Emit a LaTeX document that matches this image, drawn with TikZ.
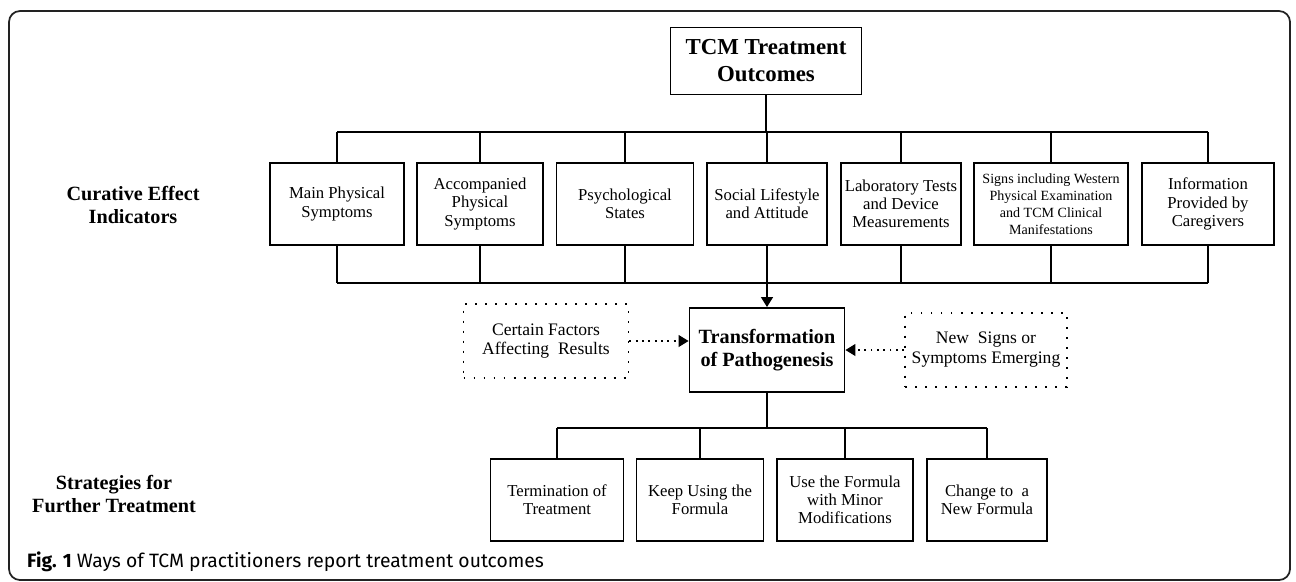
\documentclass[tikz,border=0pt]{standalone}
\usepackage{fontspec}
\setmainfont{Liberation Serif}
\newfontfamily\capfont{Fira Sans}
\usetikzlibrary{arrows.meta, calc}
\definecolor{framecol}{HTML}{222222}
\newcommand\boxfont{\fontsize{9.5}{10.4}\selectfont}
\newcommand\signfont{\fontsize{8}{9.6}\selectfont}
\tikzset{
  % outcome box, #1 = width in px
  obox/.style={draw, line width=1.1pt, align=center, inner sep=1pt,
               font=\boxfont,
               minimum width=#1*0.02cm, minimum height=82*0.02cm},
  % dotted box = side influence
  dbox/.style={draw, line width=1.1pt, dash pattern=on 1.1pt off 4.6pt,
               align=center, font=\fontsize{10}{11.3}\selectfont,
               minimum width=#1*0.02cm, minimum height=74*0.02cm},
  % bold headings
  head/.style={align=center, font=\bfseries\fontsize{11.5}{13}\selectfont},
  % tree lines
  tree/.style={line width=1.1pt},
  twig/.style={line width=0.6pt},
  feed/.style={line width=0.85pt, -{Triangle[length=0.2cm, width=0.24cm]}},
  hint/.style={line width=0.6pt, dash pattern=on 1pt off 2.6pt,
               -{Triangle[length=0.2cm, width=0.24cm]}},
}

\begin{document}
\begin{tikzpicture}[x=0.02cm, y=-0.02cm]
  \useasboundingbox (0,0) rectangle (1296,582);
  \draw[framecol, line width=1pt, rounded corners=0.22cm] (9,11) rectangle (1290,580);
  \coordinate (upbus) at (0,132);
  \coordinate (lowbus) at (0,283);
  \coordinate (botbus) at (0,428);
  % top of the tree
  \node[draw, line width=1.1pt, align=center, font=\bfseries\fontsize{13}{15.3}\selectfont,
        minimum width=191*0.02cm, minimum height=67*0.02cm] (outcomes) at (766,61)
    {TCM Treatment\\Outcomes};
  \node[head] (curative) at (133,205) {Curative Effect\\Indicators};
  \node[head] (strategies) at (114,494) {Strategies for\\Further Treatment};
  % indicators
  \foreach \x/\w/\nm/\fnt/\txt in {337/134/mainsym/\boxfont/{Main Physical\\Symptoms},
      480/126/accsym/\boxfont/{Accompanied\\Physical\\Symptoms},
      625/137/psych/\boxfont/{Psychological\\States},
      767/120/social/\boxfont/{Social Lifestyle\\and Attitude},
      901/120/labtest/\boxfont/{Laboratory Tests\\and Device\\Measurements},
      1051/154/signs/\signfont/{Signs including Western\\Physical Examination\\and TCM Clinical\\Manifestations},
      1208/132/carers/\boxfont/{Information\\Provided by\\Caregivers}}
    \node[obox=\w, font=\fnt] (\nm) at (\x,204) {\txt};
  \draw[tree] (outcomes.south) -- (outcomes.south |- upbus);
  \draw[tree] (mainsym.north |- upbus) -- (carers.north |- upbus);
  \draw[twig] (mainsym.south |- lowbus) -- (carers.south |- lowbus);
  \foreach \nm in {mainsym,accsym,psych,social,labtest,signs,carers} {
    \draw[tree] (\nm.north |- upbus) -- (\nm.north);
    \draw[twig] (\nm.south) -- (\nm.south |- lowbus);
  }
  % pathogenesis and side influences
  \node[draw, line width=1.1pt, align=center, font=\bfseries\fontsize{11.5}{13}\selectfont,
        minimum width=155*0.02cm, minimum height=84*0.02cm] (trans) at (767,350)
    {Transformation\\of Pathogenesis};
  \node[dbox=165] (factors) at (546,341) {Certain Factors\\Affecting~ Results};
  \node[dbox=162] (newsigns) at (986,350) {New~ Signs or\\Symptoms Emerging};
  \draw[feed] (social.south) -- (trans.north);
  \draw[hint] (factors.east) -- (trans.west |- factors.east);
  \draw[hint] (newsigns.west) -- (trans.east |- newsigns.west);
  % strategies
  \foreach \x/\w/\nm/\txt in {557/133/endtreat/{Termination of\\Treatment},
      700/127/keepform/{Keep Using the\\Formula},
      845/136/modform/{Use the Formula\\with Minor\\Modifications},
      987/120/newform/{Change to~ a\\New Formula}}
    \node[obox=\w] (\nm) at (\x,500) {\txt};
  \draw[tree] (trans.south) -- (trans.south |- botbus);
  \draw[tree] (endtreat.north |- botbus) -- (newform.north |- botbus);
  \foreach \nm in {endtreat,keepform,modform,newform}
    \draw[tree] (\nm.north |- botbus) -- (\nm.north);
  \node[anchor=west, font=\capfont\fontsize{11}{13}\selectfont] (caption) at (21,562)
    {\textbf{Fig. 1} Ways of TCM practitioners report treatment outcomes};
\end{tikzpicture}
\end{document}
